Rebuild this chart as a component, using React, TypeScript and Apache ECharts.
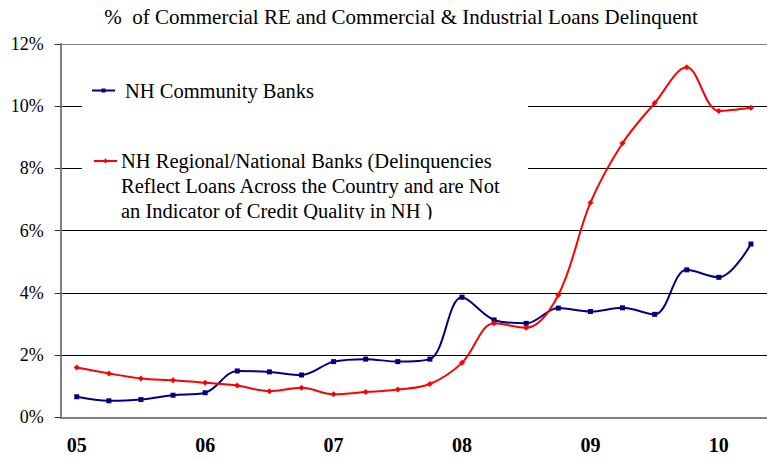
import React, { useEffect, useRef } from "react";
import * as echarts from "echarts";

const quarters = [
  "2005 Q1", "2005 Q2", "2005 Q3", "2005 Q4",
  "2006 Q1", "2006 Q2", "2006 Q3", "2006 Q4",
  "2007 Q1", "2007 Q2", "2007 Q3", "2007 Q4",
  "2008 Q1", "2008 Q2", "2008 Q3", "2008 Q4",
  "2009 Q1", "2009 Q2", "2009 Q3", "2009 Q4",
  "2010 Q1", "2010 Q2",
];
const yearLabels = ["05", "06", "07", "08", "09", "10"];

const communityBanks = [
  0.66, 0.53, 0.57, 0.71, 0.79, 1.49, 1.46, 1.36, 1.79, 1.87, 1.79, 1.87,
  3.86, 3.13, 3.02, 3.51, 3.4, 3.52, 3.31, 4.74, 4.5, 5.57,
];
const regionalBanks = [
  1.6, 1.41, 1.25, 1.19, 1.11, 1.02, 0.84, 0.95, 0.74, 0.81, 0.89, 1.07,
  1.75, 3.02, 2.88, 3.93, 6.9, 8.81, 10.1, 11.25, 9.85, 9.95,
];

const titleText =
  "%  of Commercial RE and Commercial & Industrial Loans Delinquent";
const blueName = "NH Community Banks";
const redLines = [
  "NH Regional/National Banks (Delinquencies",
  "Reflect Loans Across the Country and are Not",
  "an Indicator of Credit Quality in NH )",
];

const FONT = "Liberation Serif";
const BLUE = "#000080";
const RED = "#ff0000";

export default function App() {
  const ref = useRef<HTMLDivElement>(null);
  useEffect(() => {
    document.body.style.margin = "0";
    const chart = echarts.init(ref.current!, null, { renderer: "svg" });
    const textEl = (text: string, x: number, y: number, size: number) => ({
      type: "text",
      x,
      y,
      z: 5,
      style: {
        text,
        fill: "#000",
        fontFamily: FONT,
        fontSize: size,
        align: "left",
        verticalAlign: "middle",
      },
    });
    chart.setOption({
      animation: false,
      backgroundColor: "#fff",
      textStyle: { fontFamily: FONT },
      grid: { left: 60.7, right: -8.7, top: 44, bottom: 40.7, containLabel: false },
      title: {
        text: titleText,
        left: 396,
        top: 1,
        textAlign: "center",
        textStyle: { fontFamily: FONT, fontSize: 21, fontWeight: "normal", color: "#000" },
      },
      xAxis: {
        type: "category",
        data: quarters,
        boundaryGap: true,
        axisLine: { lineStyle: { color: "#808080", width: 2 } },
        axisTick: { interval: 0, length: 6, lineStyle: { color: "#555", width: 1 } },
        axisLabel: {
          interval: 3,
          margin: 18,
          formatter: (_v: string, i: number) => yearLabels[i / 4] ?? "",
          fontFamily: FONT,
          fontSize: 20,
          fontWeight: "bold",
          color: "#000",
        },
        splitLine: { show: false },
      },
      yAxis: {
        type: "value",
        min: 0,
        max: 12,
        interval: 2,
        axisLine: { show: true, lineStyle: { color: "#808080", width: 2 } },
        axisTick: { show: true, length: 6, lineStyle: { color: "#333" } },
        axisLabel: {
          formatter: (v: number) => `${v}%`,
          margin: 17,
          fontFamily: FONT,
          fontSize: 18,
          color: "#000",
        },
        splitLine: {
          show: true,
          lineStyle: {
            color: ["#000", "#000", "#000", "#000", "#000", "#000", "#808080"],
            width: 1,
          },
        },
      },
      series: [
        {
          name: blueName,
          type: "line",
          data: communityBanks,
          smooth: 0.35,
          symbol: "rect",
          symbolSize: 5,
          lineStyle: { color: BLUE, width: 2 },
          itemStyle: { color: BLUE },
          z: 3,
        },
        {
          name: "NH Regional/National Banks",
          type: "line",
          data: regionalBanks,
          smooth: 0.35,
          symbol: "diamond",
          symbolSize: 6,
          lineStyle: { color: RED, width: 2 },
          itemStyle: { color: RED },
          z: 3,
        },
      ],
      graphic: [
        {
          type: "rect",
          z: 1,
          shape: { x: 82, y: 49, width: 446, height: 173 },
          style: { fill: "#fff" },
        },
        {
          type: "line",
          z: 5,
          shape: { x1: 92, y1: 90.5, x2: 115, y2: 90.5 },
          style: { stroke: BLUE, lineWidth: 2 },
        },
        {
          type: "rect",
          z: 5,
          shape: { x: 101.5, y: 88.5, width: 4, height: 4 },
          style: { fill: BLUE },
        },
        textEl(blueName, 125, 90.5, 20.5),
        {
          type: "line",
          z: 5,
          shape: { x1: 94, y1: 161, x2: 117, y2: 161 },
          style: { stroke: RED, lineWidth: 2 },
        },
        {
          type: "polygon",
          z: 5,
          shape: { points: [[105.5, 158.5], [108, 161], [105.5, 163.5], [103, 161]] },
          style: { fill: RED },
        },
        textEl(redLines[0], 121, 161, 20.5),
        textEl(redLines[1], 121, 186, 20.5),
        textEl(redLines[2], 121, 211, 20.5),
        {
          type: "rect",
          z: 6,
          shape: { x: 115, y: 219.5, width: 400, height: 7 },
          style: { fill: "#fff" },
        },
      ],
    });
    return () => chart.dispose();
  }, []);
  return (
    <div
      ref={ref}
      style={{ position: "absolute", left: 0, top: 0, width: 767, height: 458 }}
    />
  );
}
